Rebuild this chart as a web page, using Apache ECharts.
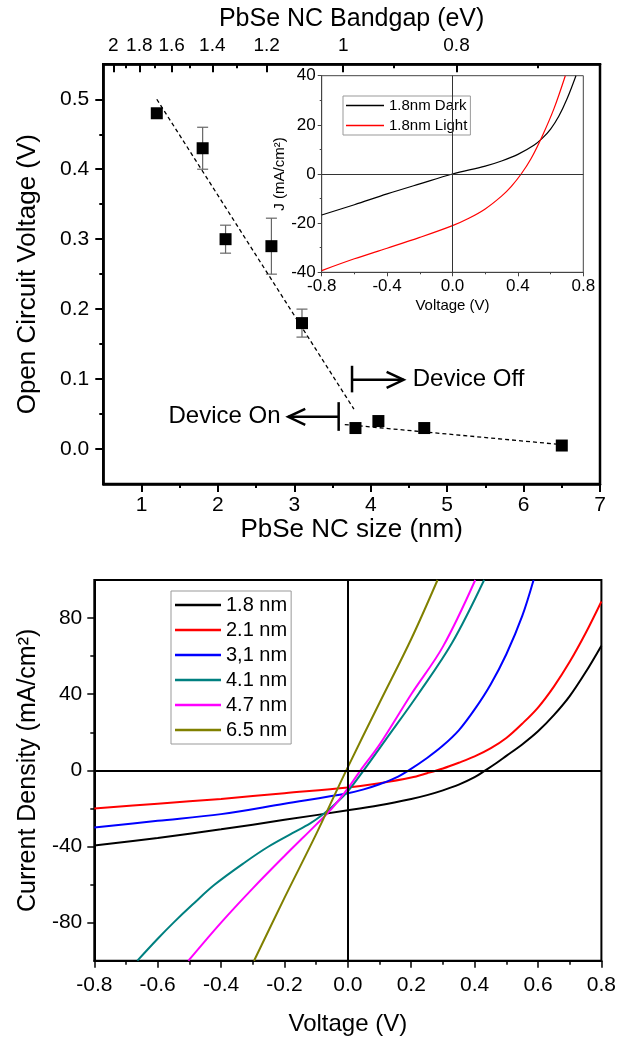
<!DOCTYPE html>
<html><head><meta charset="utf-8">
<script src="https://cdn.jsdelivr.net/npm/echarts@6/dist/echarts.min.js"></script>
<style>html,body{margin:0;padding:0;background:#fff}#c{width:619px;height:1038px}</style>
</head><body><div id="c"></div>
<script>
// ---------- Top panel: Voc vs NC size ----------
const sizeNm = [1.2, 1.8, 2.1, 2.7, 3.1, 3.8, 4.1, 4.7, 6.5];
const vocV   = [0.48, 0.43, 0.30, 0.29, 0.18, 0.03, 0.04, 0.03, 0.005];
const vocErr = [0, 0.03, 0.02, 0.04, 0.02, 0, 0, 0, 0];
const fitSteep = [[1.2, 0.5], [3.78, 0.057]];
const fitFlat  = [[3.66, 0.035], [6.43, 0.007]];
const sizeTicks = [1, 2, 3, 4, 5, 6, 7];
const sizeMinorTicks = [1.5, 2.5, 3.5, 4.5, 5.5, 6.5];
const vocTicks = [0, 0.1, 0.2, 0.3, 0.4, 0.5];
const vocMinorTicks = [0.05, 0.15, 0.25, 0.35, 0.45];
const bandgapLabels = ['2', '1.8', '1.6', '1.4', '1.2', '1', '0.8'];
const bandgapPos = [0.631, 0.971, 1.395, 1.926, 2.637, 3.639, 5.122];
const bandgapMinorPos = [0.797, 1.176, 1.634, 2.245, 4.306, 6.189];
// annotations (data coords)
const annotText = ['Device Off', 'Device On'];
const annotBarX = [3.755, 3.58];
const annotBarTop = [0.119, 0.067];
const annotBarBottom = [0.081, 0.026];
const annotTipX = [4.43, 2.92];
const annotY = [0.099, 0.046];
const annotTextX = [4.55, 2.82];

// ---------- Inset: J-V of 1.8 nm ----------
const insetDark = [[-0.8,-16.7],[-0.6,-12.5],[-0.4,-8.1],[-0.2,-4],[0,0],[0.2,3.2],[0.3,5.3],[0.4,8],[0.5,11.8],[0.55,14.6],[0.6,18.3],[0.65,23.5],[0.7,30.5],[0.755,40]];
const insetLight = [[-0.8,-39.3],[-0.6,-34.5],[-0.4,-30.2],[-0.2,-25.8],[0,-21],[0.1,-18],[0.2,-14.2],[0.3,-9],[0.36,-5],[0.42,0],[0.48,6.2],[0.55,15.6],[0.62,26.5],[0.69,40]];

// ---------- Bottom panel: J-V curves ----------
const jv18 = [[-0.8,-39.5],[-0.6,-35.5],[-0.4,-31],[-0.2,-26],[0,-21],[0.1,-18.3],[0.2,-15],[0.25,-13],[0.3,-10.5],[0.35,-7.5],[0.4,-3.6],[0.434,0],[0.47,4],[0.5,7.6],[0.55,13.6],[0.6,20.5],[0.65,29],[0.7,39],[0.75,51.5],[0.8,65.5]];
const jv21 = [[-0.8,-20],[-0.6,-17.5],[-0.4,-15],[-0.2,-12],[0,-9],[0.1,-6.8],[0.2,-3.8],[0.25,-1.5],[0.3,1],[0.35,4],[0.4,7.3],[0.45,11.5],[0.5,17],[0.55,24.5],[0.6,33],[0.65,44],[0.7,57],[0.75,72],[0.8,88.7]];
const jv31 = [[-0.8,-30],[-0.6,-26.5],[-0.4,-23],[-0.2,-17.5],[0,-12],[0.05,-10],[0.1,-7.3],[0.15,-4],[0.192,0],[0.25,6.5],[0.3,13],[0.35,21],[0.4,32],[0.45,45],[0.5,61],[0.55,81],[0.586,100]];
const jv41 = [[-0.664,-100],[-0.6,-88.5],[-0.55,-80],[-0.49,-70.5],[-0.42,-60],[-0.322,-48],[-0.25,-40],[-0.175,-33],[-0.12,-28],[-0.081,-23.5],[-0.039,-17.5],[0,-11],[0.05,0],[0.119,16],[0.224,40.5],[0.329,67],[0.43,100]];
const jv47 = [[-0.503,-100],[-0.4,-80],[-0.3,-62],[-0.2,-45],[-0.1,-28.5],[-0.05,-20],[0,-9.5],[0.04,0],[0.1,13.5],[0.2,40],[0.3,65],[0.402,100]];
const jv65 = [[-0.296,-100],[-0.2,-67],[-0.1,-33.5],[-0.005,0],[0.1,35.5],[0.2,69],[0.283,100]];
const jvNames = ['1.8 nm', '2.1 nm', '3,1 nm', '4.1 nm', '4.7 nm', '6.5 nm'];
const jvColors = ['#000000', '#ff0000', '#0000ff', '#008080', '#ff00ff', '#808000'];
const jvData = [jv18, jv21, jv31, jv41, jv47, jv65];
const jTicks = [-80, -40, 0, 40, 80];
const jMinorTicks = [-60, -20, 20, 60];

const FONT = 'Liberation Sans';
const chart = echarts.init(document.getElementById('c'), null, {renderer: 'canvas'});

const lbl = (size, extra) => Object.assign({color: '#000', fontFamily: FONT, fontSize: size}, extra || {});
const line = (c, w) => ({show: true, onZero: false, lineStyle: {color: c, width: w}});
const noLine = {show: false, onZero: false};

const option = {
  animation: false,
  backgroundColor: '#fff',
  grid: [
    {left: 103.3, top: 64.3, width: 496.7, height: 419.7, show: true, borderColor: '#000', borderWidth: 2.5, backgroundColor: 'transparent'},
    {left: 321.7, top: 75.7, width: 261.6, height: 196.6, show: true, borderColor: '#444', borderWidth: 1, backgroundColor: '#fff'},
    {left: 94.3, top: 580, width: 508.4, height: 380.7, show: true, borderColor: '#000', borderWidth: 2, backgroundColor: 'transparent'}
  ],
  xAxis: [
    { // 0 top panel size axis
      type: 'value', gridIndex: 0, position: 'bottom', min: 0.5, max: 7,
      axisLine: line('#000', 2.5), splitLine: {show: false},
      axisTick: {show: true, length: 8, lineStyle: {width: 2, color: '#000'}, customValues: sizeTicks},
      axisLabel: lbl(21, {margin: 11, customValues: sizeTicks}),
      name: 'PbSe NC size (nm)', nameLocation: 'middle', nameGap: 32, nameTextStyle: lbl(26)
    },
    { // 1 minor ticks
      type: 'value', gridIndex: 0, position: 'bottom', min: 0.5, max: 7,
      axisLine: noLine, splitLine: {show: false}, axisLabel: {show: false},
      axisTick: {show: true, length: 4, lineStyle: {width: 2, color: '#000'}, customValues: sizeMinorTicks}
    },
    { // 2 bandgap top axis
      type: 'value', gridIndex: 0, position: 'top', min: 0.5, max: 7,
      axisLine: line('#000', 2.5), splitLine: {show: false},
      axisTick: {show: true, inside: true, length: 8, lineStyle: {width: 2, color: '#000'}, customValues: bandgapPos},
      axisLabel: lbl(19, {margin: 9, customValues: bandgapPos, formatter: v => {
        let best = 0; bandgapPos.forEach((p, i) => { if (Math.abs(p - v) < Math.abs(bandgapPos[best] - v)) best = i; });
        return bandgapLabels[best];
      }}),
      name: 'PbSe NC Bandgap (eV)', nameLocation: 'middle', nameGap: 33, nameTextStyle: lbl(25)
    },
    { // 3 bandgap minor
      type: 'value', gridIndex: 0, position: 'top', min: 0.5, max: 7,
      axisLine: noLine, splitLine: {show: false}, axisLabel: {show: false},
      axisTick: {show: true, inside: true, length: 4, lineStyle: {width: 2, color: '#000'}, customValues: bandgapMinorPos}
    },
    { // 4 inset voltage
      type: 'value', gridIndex: 1, position: 'bottom', min: -0.8, max: 0.8, interval: 0.4,
      axisLine: line('#444', 1), splitLine: {show: false},
      axisTick: {show: true, length: 4, lineStyle: {color: '#444'}},
      minorTick: {show: true, splitNumber: 2, length: 2, lineStyle: {color: '#444'}},
      axisLabel: lbl(17, {margin: 6, formatter: v => v.toFixed(1)}),
      name: 'Voltage (V)', nameLocation: 'middle', nameGap: 26, nameTextStyle: lbl(15)
    },
    { // 5 bottom voltage
      type: 'value', gridIndex: 2, position: 'bottom', min: -0.8, max: 0.8, interval: 0.2,
      axisLine: line('#000', 2), splitLine: {show: false},
      axisTick: {show: true, length: 7, lineStyle: {color: '#000', width: 1.5}},
      minorTick: {show: true, splitNumber: 2, length: 4, lineStyle: {color: '#000', width: 1.5}},
      axisLabel: lbl(21, {margin: 14, formatter: v => v.toFixed(1)}),
      name: 'Voltage (V)', nameLocation: 'middle', nameGap: 52, nameTextStyle: lbl(24)
    }
  ],
  yAxis: [
    { // 0 Voc
      type: 'value', gridIndex: 0, position: 'left', min: -0.05, max: 0.55,
      axisLine: line('#000', 2.5), splitLine: {show: false},
      axisTick: {show: true, length: 8, lineStyle: {width: 2, color: '#000'}, customValues: vocTicks},
      axisLabel: lbl(21, {margin: 14, customValues: vocTicks, formatter: v => v.toFixed(1)}),
      name: 'Open Circuit Voltage (V)', nameLocation: 'middle', nameGap: 62, nameTextStyle: lbl(26)
    },
    { // 1 Voc minor
      type: 'value', gridIndex: 0, position: 'left', min: -0.05, max: 0.55,
      axisLine: noLine, splitLine: {show: false}, axisLabel: {show: false},
      axisTick: {show: true, length: 4, lineStyle: {width: 2, color: '#000'}, customValues: vocMinorTicks}
    },
    { // 2 inset J
      type: 'value', gridIndex: 1, position: 'left', min: -40, max: 40, interval: 20,
      axisLine: line('#444', 1), splitLine: {show: false},
      axisTick: {show: true, length: 4, lineStyle: {color: '#444'}},
      minorTick: {show: true, splitNumber: 2, length: 2, lineStyle: {color: '#444'}},
      axisLabel: lbl(17, {margin: 6}),
      name: 'J (mA/cm²)', nameLocation: 'middle', nameGap: 32, nameTextStyle: lbl(15)
    },
    { // 3 bottom J
      type: 'value', gridIndex: 2, position: 'left', min: -100, max: 100,
      axisLine: line('#000', 2), splitLine: {show: false},
      axisTick: {show: true, length: 7, lineStyle: {color: '#000', width: 1.5}, customValues: jTicks},
      axisLabel: lbl(21, {margin: 12, customValues: jTicks}),
      name: 'Current Density (mA/cm²)', nameLocation: 'middle', nameGap: 52, nameTextStyle: lbl(25)
    },
    { // 4 bottom J minor
      type: 'value', gridIndex: 2, position: 'left', min: -100, max: 100,
      axisLine: noLine, splitLine: {show: false}, axisLabel: {show: false},
      axisTick: {show: true, length: 4, lineStyle: {color: '#000', width: 1.5}, customValues: jMinorTicks}
    }
  ],
  legend: [
    {
      data: ['1.8nm Dark', '1.8nm Light'], orient: 'vertical', left: 343, top: 96,
      icon: 'rect', itemWidth: 38, itemHeight: 1.3, itemGap: 5, padding: [2, 3, 2, 3],
      backgroundColor: '#fff', borderColor: '#999', borderWidth: 1, borderRadius: 0,
      selectedMode: false, textStyle: lbl(15, {lineHeight: 15})
    },
    {
      data: jvNames, orient: 'vertical', left: 171, top: 591,
      icon: 'rect', itemWidth: 46, itemHeight: 2.5, itemGap: 5, padding: [4, 4, 4, 4],
      backgroundColor: '#fff', borderColor: '#999', borderWidth: 1, borderRadius: 0,
      selectedMode: false, textStyle: lbl(20, {lineHeight: 20})
    }
  ],
  series: [
    { // fit lines
      type: 'line', xAxisIndex: 0, yAxisIndex: 0, data: fitSteep, symbol: 'none', silent: true,
      lineStyle: {color: '#000', width: 1.3, type: [4, 3]}
    },
    {
      type: 'line', xAxisIndex: 0, yAxisIndex: 0, data: fitFlat, symbol: 'none', silent: true,
      lineStyle: {color: '#000', width: 1.3, type: [4, 3]}
    },
    { // error bars
      type: 'custom', xAxisIndex: 0, yAxisIndex: 0, silent: true,
      data: sizeNm.map((x, i) => [x, vocV[i], vocErr[i]]).filter(d => d[2] > 0),
      renderItem: (params, api) => {
        const x = api.value(0), y = api.value(1), e = api.value(2);
        const t = api.coord([x, y + e]), b = api.coord([x, y - e]);
        const st = {stroke: '#666', lineWidth: 1.2};
        return {type: 'group', children: [
          {type: 'line', shape: {x1: t[0], y1: t[1], x2: b[0], y2: b[1]}, style: st},
          {type: 'line', shape: {x1: t[0] - 5.5, y1: t[1], x2: t[0] + 5.5, y2: t[1]}, style: st},
          {type: 'line', shape: {x1: b[0] - 5.5, y1: b[1], x2: b[0] + 5.5, y2: b[1]}, style: st}
        ]};
      }
    },
    { // squares
      type: 'scatter', xAxisIndex: 0, yAxisIndex: 0, symbol: 'rect', symbolSize: 12,
      itemStyle: {color: '#000', opacity: 1}, data: sizeNm.map((x, i) => [x, vocV[i]]), z: 5
    },
    { // annotations
      type: 'custom', xAxisIndex: 0, yAxisIndex: 0, silent: true,
      data: annotText.map((t, i) => [annotBarX[i], annotBarTop[i], annotBarBottom[i], annotTipX[i], annotY[i], annotTextX[i]]),
      renderItem: (params, api) => {
        const i = params.dataIndex;
        const bt = api.coord([api.value(0), api.value(1)]);
        const bb = api.coord([api.value(0), api.value(2)]);
        const base = api.coord([api.value(0), api.value(4)]);
        const tip = api.coord([api.value(3), api.value(4)]);
        const tx = api.coord([api.value(5), api.value(4)]);
        const dir = tip[0] > base[0] ? 1 : -1;
        const st = {stroke: '#000', lineWidth: 2.5, fill: null};
        return {type: 'group', children: [
          {type: 'line', shape: {x1: bt[0], y1: bt[1], x2: bb[0], y2: bb[1]}, style: st},
          {type: 'line', shape: {x1: base[0], y1: base[1], x2: tip[0], y2: tip[1]}, style: st},
          {type: 'polyline', shape: {points: [[tip[0] - dir * 17, tip[1] - 8], [tip[0], tip[1]], [tip[0] - dir * 17, tip[1] + 8]]}, style: st},
          {type: 'text', x: tx[0], y: tx[1], style: {text: annotText[i], fill: '#000', font: '24px "Liberation Sans"', align: dir > 0 ? 'left' : 'right', verticalAlign: 'middle'}}
        ]};
      }
    },
    // inset
    {
      name: '1.8nm Dark', type: 'line', xAxisIndex: 4, yAxisIndex: 2, data: insetDark, symbol: 'none', smooth: 0.35,
      lineStyle: {color: '#000', width: 1.2}, itemStyle: {color: '#000'},
      markLine: {silent: true, symbol: ['none', 'none'], label: {show: false}, lineStyle: {color: '#333', width: 1, type: 'solid'},
        data: [{yAxis: 0}, {xAxis: 0}]}
    },
    {
      name: '1.8nm Light', type: 'line', xAxisIndex: 4, yAxisIndex: 2, data: insetLight, symbol: 'none', smooth: 0.35,
      lineStyle: {color: '#ff0000', width: 1.2}, itemStyle: {color: '#ff0000'}
    },
    // bottom
    ...jvData.map((d, i) => ({
      name: jvNames[i], type: 'line', xAxisIndex: 5, yAxisIndex: 3, data: d, symbol: 'none', smooth: 0.35,
      lineStyle: {color: jvColors[i], width: 2}, itemStyle: {color: jvColors[i]},
      markLine: i === 0 ? {silent: true, symbol: ['none', 'none'], label: {show: false}, lineStyle: {color: '#000', width: 2, type: 'solid'},
        data: [{yAxis: 0}, {xAxis: 0}]} : undefined
    }))
  ]
};
chart.setOption(option);
</script>
</body></html>
